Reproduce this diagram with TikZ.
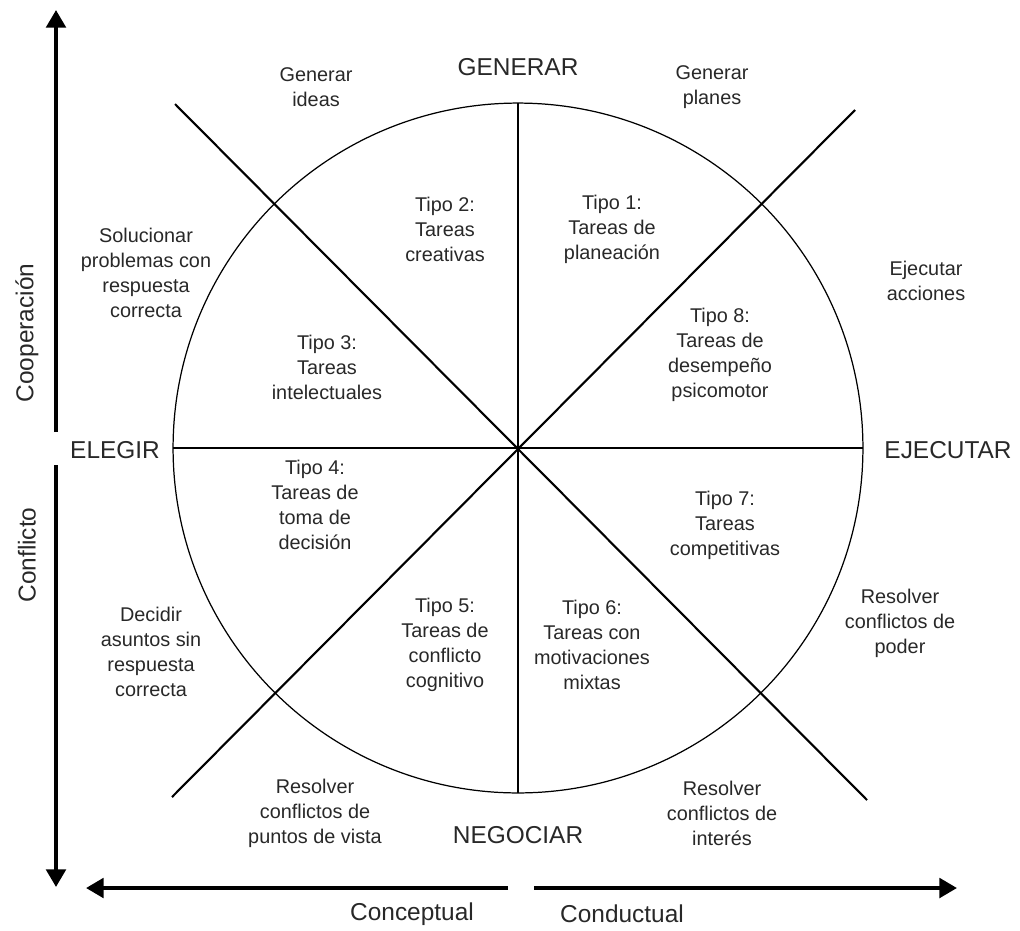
\documentclass[tikz,border=0pt]{standalone}
\usepackage{fontspec}
\setmainfont{Liberation Sans}
\usetikzlibrary{arrows.meta}
\definecolor{gristexto}{RGB}{40,40,40}
\tikzset{
  tipo/.style={align=center, font=\fontsize{11.3}{14.2}\selectfont, text=gristexto},
  modo/.style={font=\fontsize{13.9}{16}\selectfont, text=gristexto},
  eje/.style={line width=2.3pt, -{Triangle[length=10pt,width=11pt]}},
  fino/.style={line width=0.7pt},
  diag/.style={line width=1.2pt},
}

\begin{document}
\begin{tikzpicture}[x=0.02cm,y=-0.02cm]
    \useasboundingbox (0,0) rectangle (1020,930);
    \coordinate (o) at (518,448);
    \draw[fino] (o) circle[radius=6.9cm];
    % ejes interiores
    \coordinate (arriba) at (518,103);
    \coordinate (abajo) at (518,793);
    \coordinate (izq) at (173,448);
    \coordinate (der) at (863,448);
    \draw[fino] (arriba) -- (abajo);
    \draw[fino] (izq) -- (der);
    \coordinate (d1a) at (175,104);
    \coordinate (d1b) at (867,800);
    \coordinate (d2a) at (855,110);
    \coordinate (d2b) at (172,797);
    \draw[diag] (d1a) -- (d1b);
    \draw[diag] (d2a) -- (d2b);
    % flechas exteriores
    \coordinate (coopIni) at (56,432);
    \coordinate (coopFin) at (56,10);
    \coordinate (confIni) at (56,465);
    \coordinate (confFin) at (56,887);
    \coordinate (concIni) at (508,888);
    \coordinate (concFin) at (86,888);
    \coordinate (condIni) at (534,888);
    \coordinate (condFin) at (957,888);
    \draw[eje] (coopIni) -- (coopFin);
    \draw[eje] (confIni) -- (confFin);
    \draw[eje] (concIni) -- (concFin);
    \draw[eje] (condIni) -- (condFin);
    \node[modo, rotate=90] (coop) at (27,333) {Cooperación};
    \node[modo, rotate=90] (conf) at (27,555) {Conflicto};
    \node[modo] (conc) at (412,914) {Conceptual};
    \node[modo] (cond) at (622,914) {Conductual};
    % modos
    \node[modo] (generar) at (518,67) {GENERAR};
    \node[modo] (negociar) at (518,835) {NEGOCIAR};
    \node[modo] (elegir) at (115,450) {ELEGIR};
    \node[modo] (ejecutar) at (948,450) {EJECUTAR};
    % procesos
    \node[tipo] (ideas) at (316,87) {Generar\\ideas};
    \node[tipo] (planes) at (712,87) {Generar\\planes};
    \node[tipo] (soluc) at (146,273) {Solucionar\\problemas con\\respuesta\\correcta};
    \node[tipo] (acciones) at (926,281) {Ejecutar\\acciones};
    \node[tipo] (decidir) at (151,652) {Decidir\\asuntos sin\\respuesta\\correcta};
    \node[tipo] (poder) at (900,623) {Resolver\\conflictos de\\poder};
    \node[tipo] (vista) at (315,813) {Resolver\\conflictos de\\puntos de vista};
    \node[tipo] (interes) at (722,813) {Resolver\\conflictos de\\interés};
    % tipos de tareas
    \node[tipo] (t1) at (612,229) {Tipo 1:\\Tareas de\\planeación};
    \node[tipo] (t2) at (445,229) {Tipo 2:\\Tareas\\creativas};
    \node[tipo] (t3) at (327,367) {Tipo 3:\\Tareas\\intelectuales};
    \node[tipo] (t4) at (315,505) {Tipo 4:\\Tareas de\\toma de\\decisión};
    \node[tipo] (t5) at (445,645) {Tipo 5:\\Tareas de\\conflicto\\cognitivo};
    \node[tipo] (t6) at (592,645) {Tipo 6:\\Tareas con\\motivaciones\\mixtas};
    \node[tipo] (t7) at (725,525) {Tipo 7:\\Tareas\\competitivas};
    \node[tipo] (t8) at (720,355) {Tipo 8:\\Tareas de\\desempeño\\psicomotor};
\end{tikzpicture}
\end{document}
